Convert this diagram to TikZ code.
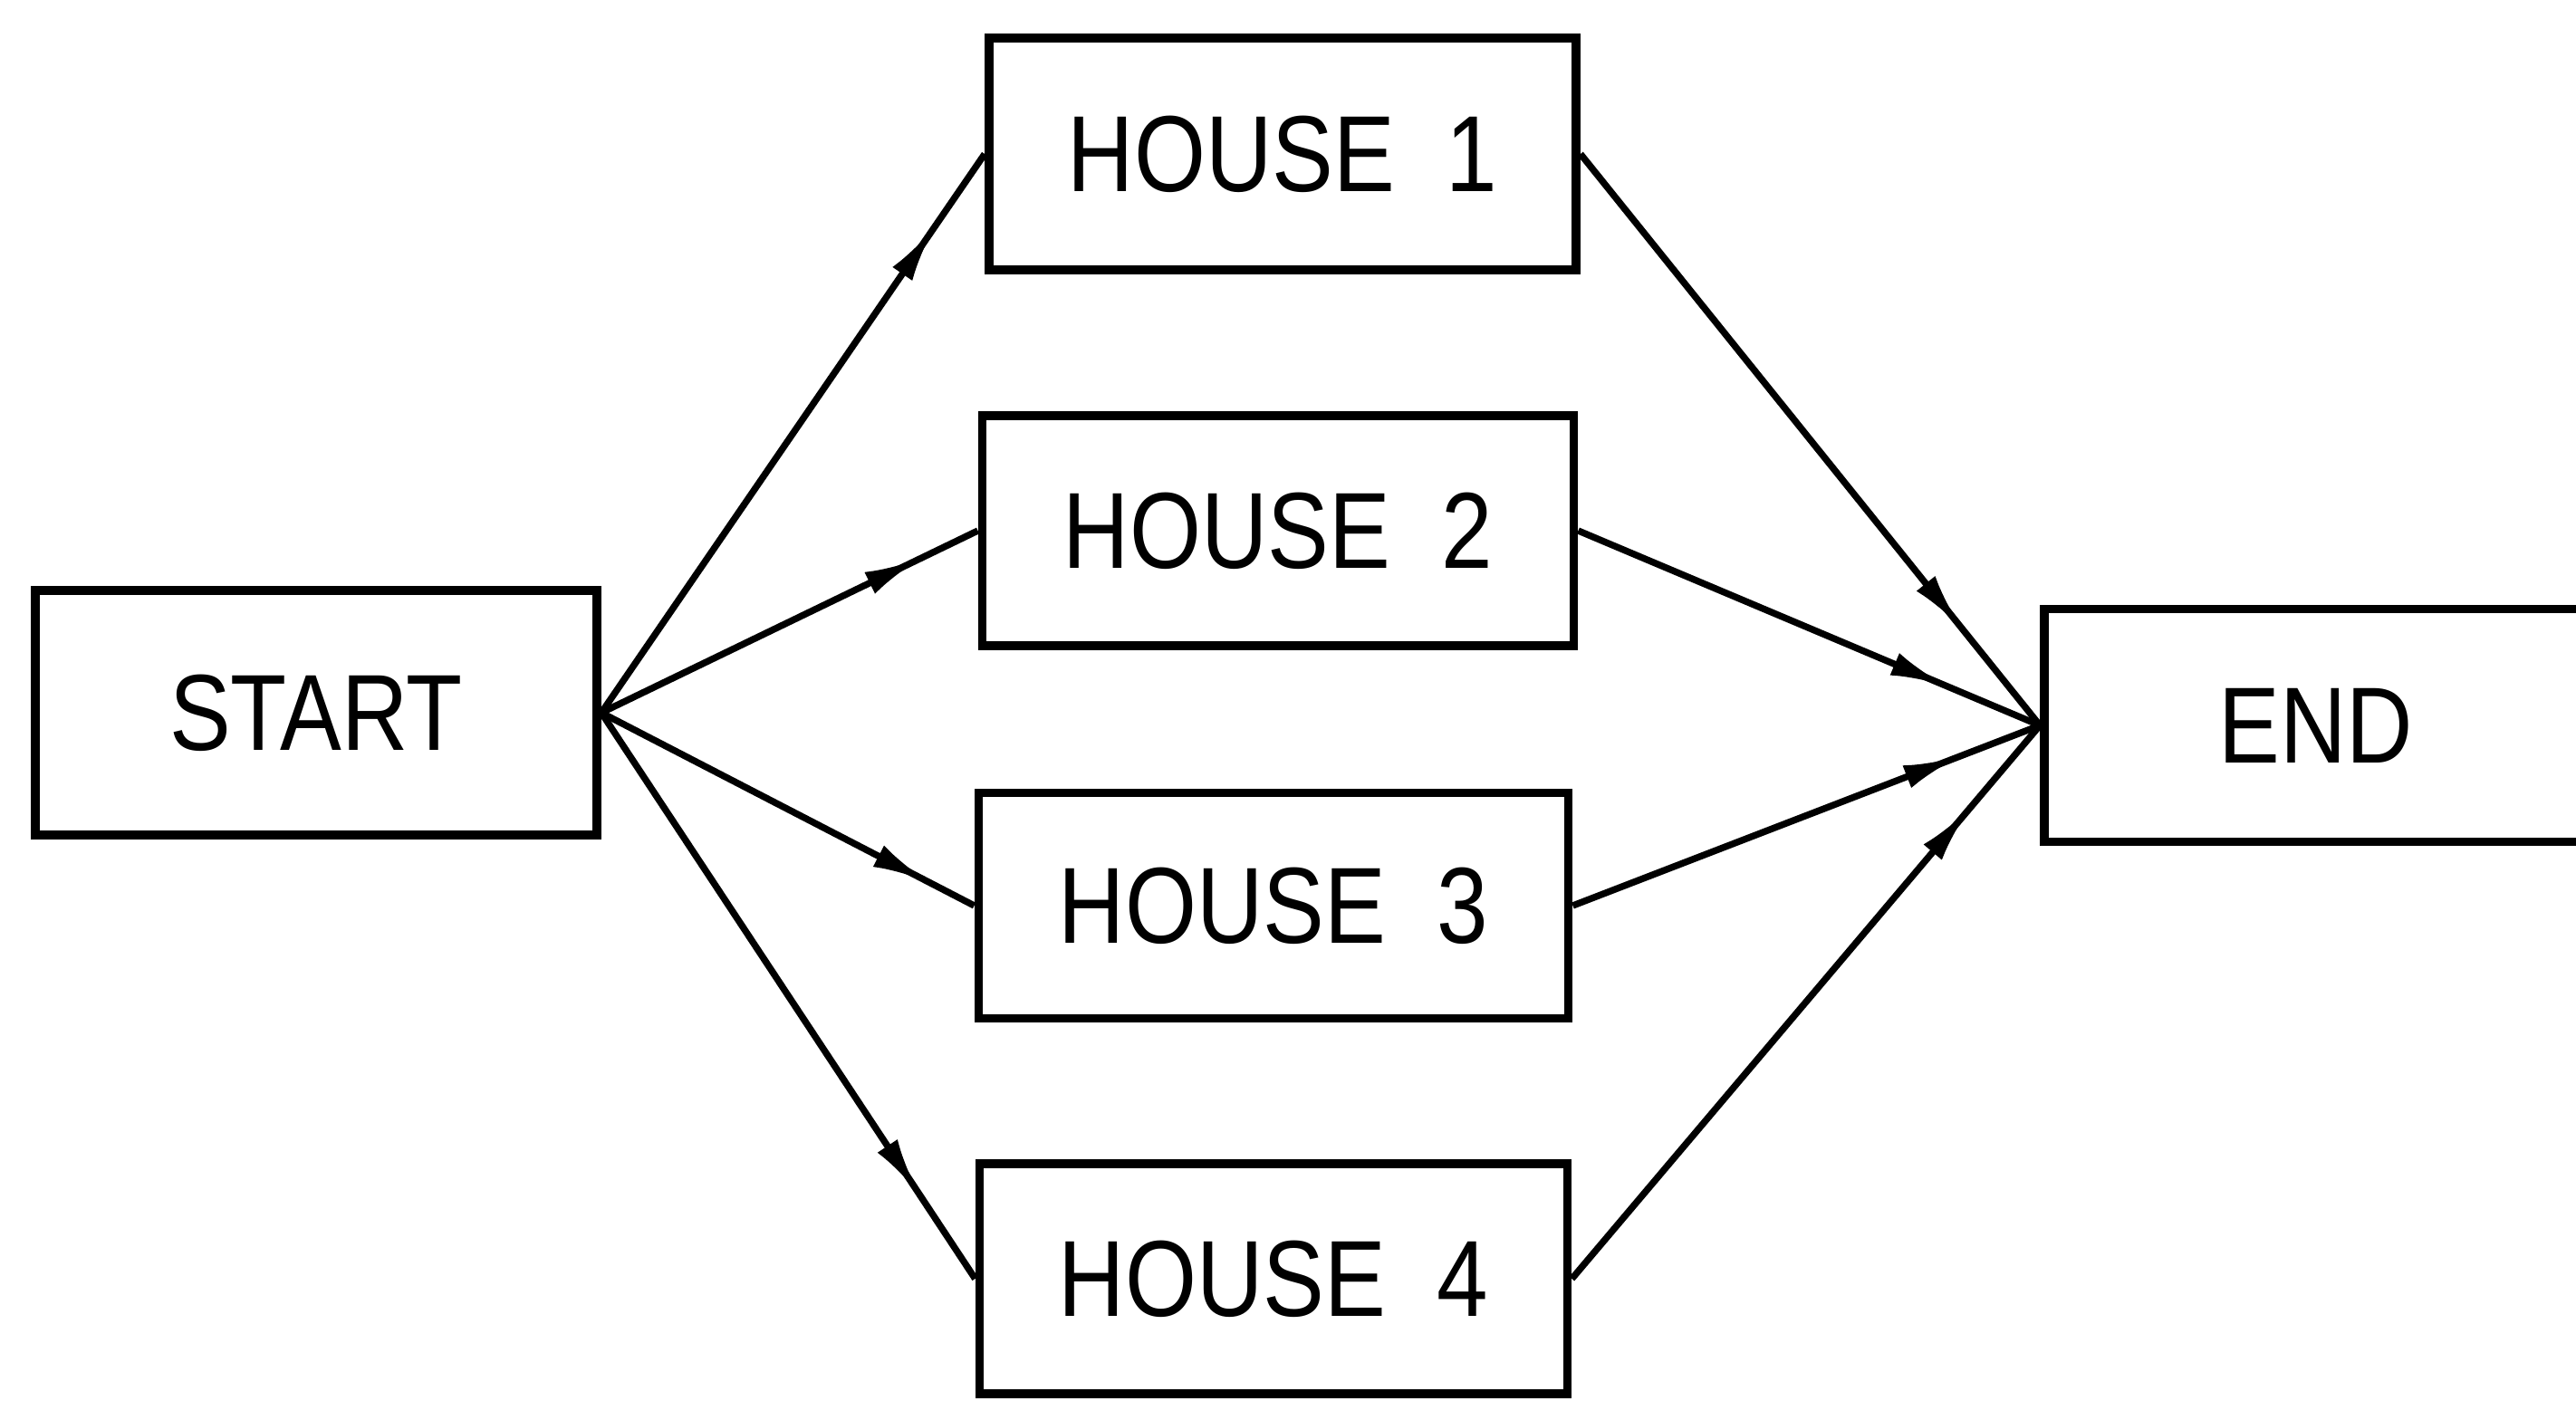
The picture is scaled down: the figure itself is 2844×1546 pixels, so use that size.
\documentclass[tikz,border=0pt]{standalone}
\usepackage{fontspec}
\setmainfont{Liberation Sans}[FakeStretch=0.85]
\usetikzlibrary{arrows.meta,decorations.markings}
\begin{document}
\begin{tikzpicture}[x=0.1mm,y=-0.1mm,
  box/.style={draw,line width=2.8pt,inner sep=0pt,font=\fontsize{34}{40}\selectfont},
  flow/.style={line width=2.1pt,postaction={decorate},
    decoration={markings,mark=at position #1 with {\arrow{Latex[length=18pt,width=7.5pt]}}}}]
\useasboundingbox (0,0) rectangle (2844,1546);
\clip (0,0) rectangle (2844,1546);
\fill[white] (0,0) rectangle (2844,1546);
\node[box,minimum width=62mm,minimum height=27mm] (start) at (349,787) {START};
\node[box,minimum width=64.8mm,minimum height=25.6mm] (h1) at (1416,170) {HOUSE\ \ 1};
\node[box,minimum width=65.3mm,minimum height=25.4mm] (h2) at (1411,586) {HOUSE\ \ 2};
\node[box,minimum width=65.1mm,minimum height=24.9mm] (h3) at (1406,1000) {HOUSE\ \ 3};
\node[box,minimum width=64.9mm,minimum height=25.4mm] (h4) at (1406,1412) {HOUSE\ \ 4};
\node[box,minimum width=60mm,minimum height=25.7mm] (end) at (2557,801) {END};
\draw[flow=0.87] (start.east) -- (h1.west);
\draw[flow=0.85] (start.east) -- (h2.west);
\draw[flow=0.88] (start.east) -- (h3.west);
\draw[flow=0.85] (start.east) -- (h4.west);
\draw[flow=0.83] (h1.east) -- (end.west);
\draw[flow=0.80] (h2.east) -- (end.west);
\draw[flow=0.83] (h3.east) -- (end.west);
\draw[flow=0.85] (h4.east) -- (end.west);
\end{tikzpicture}
\end{document}
